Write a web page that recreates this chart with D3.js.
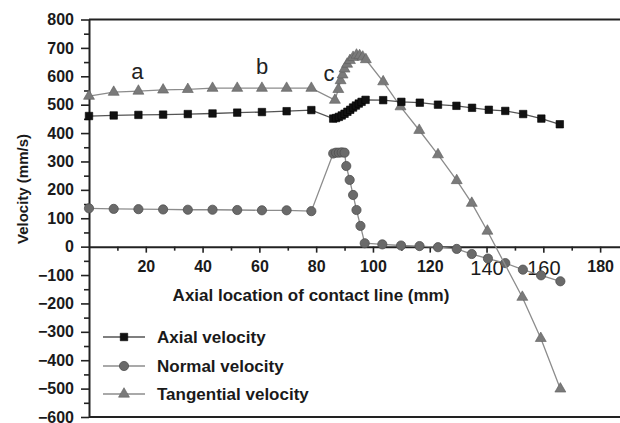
<!DOCTYPE html>
<html>
<head>
<meta charset="utf-8">
<script src="https://cdn.jsdelivr.net/npm/d3@7/dist/d3.min.js"></script>
<style>
  body { margin: 0; background: #fff; }
  svg { display: block; font-family: "Liberation Sans", Arial, sans-serif; }
</style>
</head>
<body>
<svg id="chart" width="620" height="423"></svg>
<script>
// values (x in mm, velocity in mm/s)
var axialX = [0, 8.7, 17.4, 26.1, 34.8, 43.5, 52.2, 60.9, 69.6, 78.3,
  86, 87, 88, 89, 90, 91, 92, 93, 94, 95, 96, 97.4,
  103.6, 110, 116.5, 122.9, 129.4, 134.9, 140.8, 146.6, 152.9, 159.3, 165.8];
var axialV = [460, 462, 464, 465, 467, 469, 472, 474, 477, 481,
  451, 453, 457, 462, 468, 475, 482, 490, 497, 504, 510, 517,
  516, 510, 507, 500, 496, 489, 482, 478, 467, 451, 431];

var normalX = [0, 8.7, 17.4, 26.1, 34.8, 43.5, 52.2, 60.9, 69.6, 78.3,
  86, 87, 88, 89, 90, 90.6, 91.8, 93, 94.2, 95.6, 97.1,
  103.3, 109.9, 116.4, 122.9, 129.5, 134.8, 140.5, 146.6, 152.8, 159.2, 166];
var normalV = [135, 133, 132, 131, 130, 130, 129, 128, 128, 125,
  328, 331, 331, 332, 331, 284, 235, 182, 129, 73, 12,
  8, 4, 2, -2, -8, -26, -42, -58, -81, -101, -122];

var tangX = [0, 8.7, 17.4, 26.1, 34.8, 43.5, 52.2, 60.9, 69.6, 78.3,
  86.6, 87.8, 88.6, 89.3, 90, 90.9, 91.9, 93, 94.2, 95.3, 96.4, 97.5,
  103.6, 109.7, 116.3, 122.9, 129.5, 134.8, 140.3, 152.6, 159.1, 166];
var tangV = [530, 544, 548, 552, 554, 558, 558, 558, 558, 558,
  516, 554, 585, 605, 626, 643, 656, 667, 675, 673, 668, 659,
  581, 493, 410, 324, 233, 153, 55, -178, -323, -501];

var xTicks = [20, 40, 60, 80, 100, 120, 140, 160, 180];
var xMinor = [10, 30, 50, 70, 90, 110, 130, 150, 170];
var yTicks = [-600, -500, -400, -300, -200, -100, 0, 100, 200, 300, 400, 500, 600, 700, 800];
var yMinor = [-550, -450, -350, -250, -150, -50, 50, 150, 250, 350, 450, 550, 650, 750];
var bigXLabels = [140, 160];

var pointLabels = ["a", "b", "c"];
var pointLabelX = [17, 61, 84.5];
var pointLabelV = [590, 608, 585];

var seriesNames = ["Axial velocity", "Normal velocity", "Tangential velocity"];

var svg = d3.select("#chart");
var plotLeft = 89, plotRight = 620, plotTop = 19.5, plotBottom = 417;

var x = d3.scaleLinear().domain([0, 187]).range([plotLeft, plotRight]);
var y = d3.scaleLinear().domain([-600, 800]).range([plotBottom, plotTop]);

// frame lines top and bottom
svg.append("line").attr("x1", plotLeft).attr("x2", plotRight).attr("y1", plotTop).attr("y2", plotTop)
  .attr("stroke", "#222").attr("stroke-width", 2);
svg.append("line").attr("x1", plotLeft).attr("x2", plotRight).attr("y1", plotBottom).attr("y2", plotBottom)
  .attr("stroke", "#222").attr("stroke-width", 2);

// y axis
var yAxis = svg.append("g").attr("transform", "translate(" + plotLeft + ",0)")
  .call(d3.axisLeft(y).tickValues(yTicks).tickSize(8).tickPadding(7).tickSizeOuter(0));
svg.append("g").attr("transform", "translate(" + plotLeft + ",0)")
  .call(d3.axisLeft(y).tickValues(yMinor).tickSize(5).tickFormat("").tickSizeOuter(0))
  .select(".domain").remove();

// x axis at zero
var xAxis = svg.append("g").attr("transform", "translate(0," + y(0) + ")")
  .call(d3.axisBottom(x).tickValues(xTicks).tickSize(6).tickPadding(8).tickSizeOuter(0));
svg.append("g").attr("transform", "translate(0," + y(0) + ")")
  .call(d3.axisBottom(x).tickValues(xMinor).tickSize(4).tickFormat("").tickSizeOuter(0))
  .select(".domain").remove();

svg.selectAll(".domain").attr("stroke", "#222").attr("stroke-width", 2);
svg.selectAll(".tick line").attr("stroke", "#222").attr("stroke-width", 1.6);
svg.selectAll(".tick text").attr("fill", "#1a1a1a")
  .style("font-family", "'Liberation Sans', Arial, sans-serif")
  .style("font-size", "16px").style("font-weight", "bold");
xAxis.selectAll(".tick text").filter(function(d){ return bigXLabels.indexOf(d) >= 0; })
  .style("font-size", "20px").style("font-weight", "normal");

// axis titles
svg.append("text").attr("x", 311).attr("y", 301).attr("text-anchor", "middle")
  .attr("fill", "#1a1a1a").style("font-size", "17px").style("font-weight", "bold")
  .text("Axial location of contact line (mm)");
svg.append("text").attr("transform", "translate(28,189) rotate(-90)").attr("text-anchor", "middle")
  .attr("fill", "#1a1a1a").style("font-size", "15px").style("font-weight", "bold")
  .text("Velocity (mm/s)");

// series
function zip(xs, vs){ return xs.map(function(d, i){ return [d, vs[i]]; }); }
var line = d3.line().x(function(d){ return x(d[0]); }).y(function(d){ return y(d[1]); });

var series = [
  {data: zip(normalX, normalV), stroke: "#8c8c8c", shape: "circle", fill: "#6a6a6a", edge: "#505050"},
  {data: zip(tangX, tangV), stroke: "#8c8c8c", shape: "triangle", fill: "#7a7a7a", edge: "#5e5e5e"},
  {data: zip(axialX, axialV), stroke: "#555", shape: "square", fill: "#111", edge: "#000"}
];

var symTri = d3.symbol().type(d3.symbolTriangle).size(52);
var symSq = d3.symbol().type(d3.symbolSquare).size(56);

function drawMarker(g, shape, fill, edge) {
  if (shape === "circle") {
    g.append("circle").attr("r", 4.6).attr("fill", fill).attr("stroke", edge).attr("stroke-width", 0.8);
  } else if (shape === "triangle") {
    g.append("path").attr("d", symTri).attr("fill", fill).attr("stroke", edge).attr("stroke-width", 0.6);
  } else {
    g.append("path").attr("d", symSq).attr("fill", fill).attr("stroke", edge).attr("stroke-width", 0.6);
  }
}

series.forEach(function(s){
  svg.append("path").datum(s.data).attr("d", line)
    .attr("fill", "none").attr("stroke", s.stroke).attr("stroke-width", 1.3);
  s.data.forEach(function(d){
    var g = svg.append("g").attr("transform", "translate(" + x(d[0]) + "," + y(d[1]) + ")");
    drawMarker(g, s.shape, s.fill, s.edge);
  });
});

// a, b, c labels
pointLabels.forEach(function(t, i){
  svg.append("text").attr("x", x(pointLabelX[i])).attr("y", y(pointLabelV[i]))
    .attr("text-anchor", "middle").attr("fill", "#222")
    .style("font-size", "22px").text(t);
});

// legend
var legendShapes = [["square", "#111", "#000", "#555"], ["circle", "#6a6a6a", "#505050", "#8c8c8c"], ["triangle", "#7a7a7a", "#5e5e5e", "#8c8c8c"]];
var legendY = [337, 366, 394];
seriesNames.forEach(function(name, i){
  var ly = legendY[i];
  svg.append("line").attr("x1", 103).attr("x2", 145).attr("y1", ly).attr("y2", ly)
    .attr("stroke", legendShapes[i][3]).attr("stroke-width", 1.3);
  var g = svg.append("g").attr("transform", "translate(124," + ly + ")");
  drawMarker(g, legendShapes[i][0], legendShapes[i][1], legendShapes[i][2]);
  svg.append("text").attr("x", 157).attr("y", ly).attr("dy", "0.36em")
    .attr("fill", "#1a1a1a").style("font-size", "17px").style("font-weight", "bold")
    .text(name);
});
</script>
</body>
</html>
